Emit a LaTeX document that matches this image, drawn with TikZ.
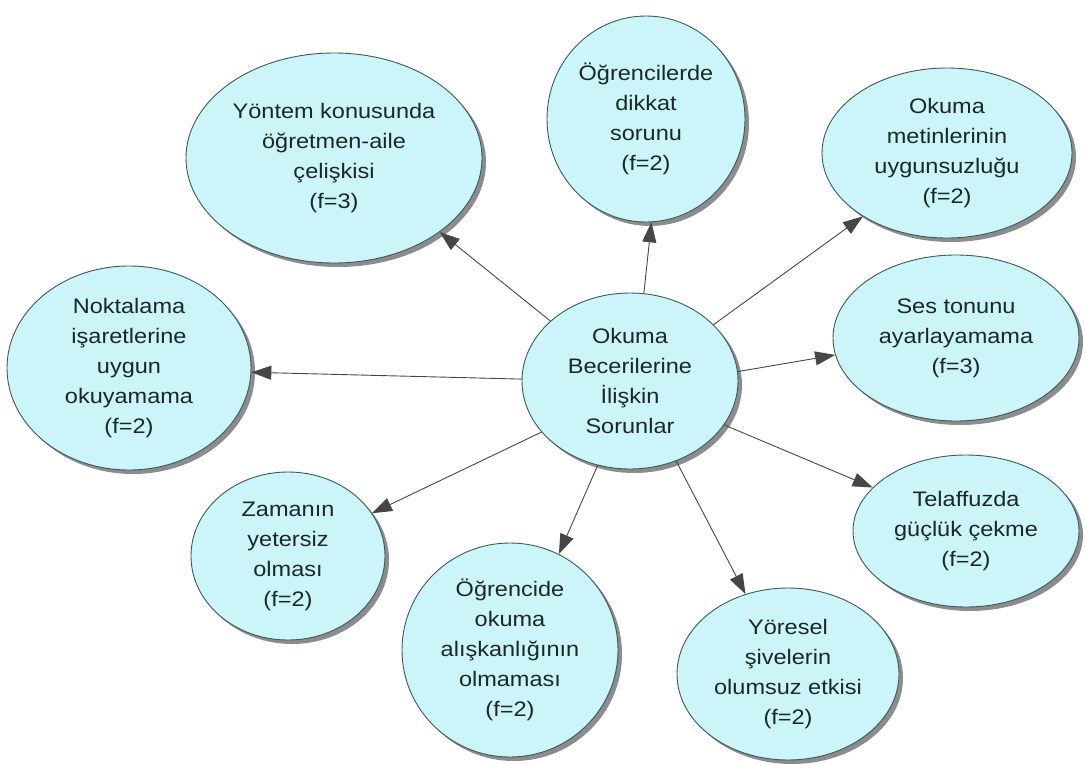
\documentclass[tikz,border=0pt]{standalone}
\usepackage{fontspec}
\setmainfont{Liberation Sans}[FakeStretch=1.12]
\usetikzlibrary{arrows.meta,shapes.geometric,shadows}
\definecolor{bubblefill}{RGB}{204,245,249}
\definecolor{rim}{RGB}{60,90,92}
\definecolor{ink}{RGB}{25,40,40}
\definecolor{linkcol}{RGB}{70,70,70}
\begin{document}
\begin{tikzpicture}[x=1pt,y=-1pt,
  bubble/.style args={#1/#2}{ellipse, draw=rim, line width=0.9pt, fill=bubblefill,
    minimum width=#1pt, minimum height=#2pt, inner sep=0pt, align=center,
    text=ink, font=\fontsize{21}{30}\selectfont,
    drop shadow={shadow xshift=4pt,shadow yshift=-4pt,fill=black!45,opacity=1}},
  link/.style={draw=linkcol, line width=0.9pt,
    -{Triangle[length=20pt,width=14pt,fill=linkcol]}}]
\useasboundingbox (0,0) rectangle (1085,765);

% central topic
\node[bubble=216/176] (c) at (630,381) {Okuma\\Becerilerine\\İlişkin\\Sorunlar};

% surrounding problems
\node[bubble=296/210] (yontem) at (334,158) {Yöntem konusunda\\öğretmen-aile\\çelişkisi\\(f=3)};
\node[bubble=198/206] (dikkat) at (646,119) {Öğrencilerde\\dikkat\\sorunu\\(f=2)};
\node[bubble=250/170] (metin) at (947,153) {Okuma\\metinlerinin\\uygunsuzluğu\\(f=2)};
\node[bubble=246/166] (ses) at (956,338) {Ses tonunu\\ayarlayamama\\(f=3)};
\node[bubble=226/152] (telaffuz) at (966,531) {Telaffuzda\\güçlük çekme\\(f=2)};
\node[bubble=222/172] (yoresel) at (788,674) {Yöresel\\şivelerin\\olumsuz etkisi\\(f=2)};
\node[bubble=216/214] (aliskanlik) at (510,650) {Öğrencide\\okuma\\alışkanlığının\\olmaması\\(f=2)};
\node[bubble=194/168] (zaman) at (288,556) {Zamanın\\yetersiz\\olması\\(f=2)};
\node[bubble=244/204] (noktalama) at (129,368) {Noktalama\\işaretlerine\\uygun\\okuyamama\\(f=2)};

% connectors from the centre outwards
\draw[link] (c.143.4) -- (yontem.-35.4);
\draw[link] (c.81.6) -- (dikkat.-87.7);
\draw[link] (c.34.8) -- (metin.-143.9);
\draw[link] (c.5.6) -- (ses.-172);
\draw[link] (c.-25.4) -- (telaffuz.155.8);
\draw[link] (c.-60.8) -- (yoresel.118.2);
\draw[link] (c.-111.5) -- (aliskanlik.63.4);
\draw[link] (c.-150.8) -- (zaman.27.4);
\draw[link] (c.179.5) -- (noktalama.-2.9);
\end{tikzpicture}
\end{document}
